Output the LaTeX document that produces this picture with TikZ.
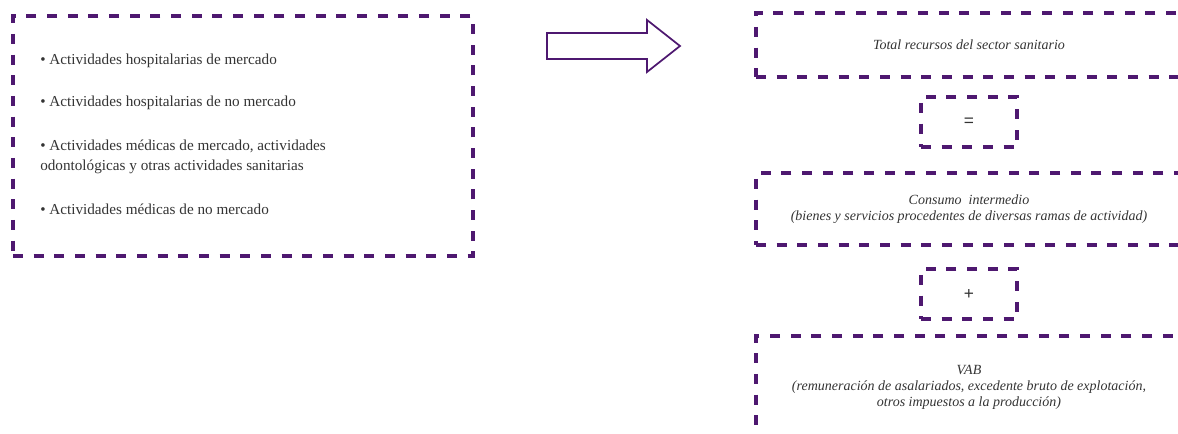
\documentclass[tikz,border=0pt]{standalone}
\usepackage{fontspec}
\setmainfont{Liberation Serif}
\setsansfont{Liberation Sans}
\definecolor{morado}{RGB}{78,24,112}
\begin{document}
\begin{tikzpicture}[x=0.75pt, y=-0.75pt, font=\fontsize{11.4}{15}\selectfont]
  \tikzset{
    caja/.style={draw=morado, line width=2.4pt, dash pattern=on 7.5pt off 8pt, inner sep=0pt},
    item/.style={anchor=west, text=black!80, inner sep=0pt, align=left},
    cuenta/.style={caja, minimum width=319.5pt, align=center, text=black!80,
      font=\itshape\fontsize{10.5}{12}\selectfont},
    signo/.style={caja, minimum width=72pt, minimum height=37.5pt, text=black!80,
      font=\sffamily\fontsize{13}{14}\selectfont}
  }
  \useasboundingbox (0,0) rectangle (1178,434);
  \clip (0,0) rectangle (1178,434);

  % Left box with the branches of activity
  \node[caja, minimum width=345pt, minimum height=180pt] (ramas) at (243,136) {};
  \node[item] (r1) at (40,61) {• Actividades hospitalarias de mercado};
  \node[item] (r2) at (40,103) {• Actividades hospitalarias de no mercado};
  \node[item] (r3) at (40,157) {• Actividades médicas de mercado, actividades\\odontológicas y otras actividades sanitarias};
  \node[item] (r4) at (40,209) {• Actividades médicas de no mercado};

  % Block arrow
  \draw[morado, line width=1.3pt] (547,33) -- (647,33) -- (647,20) -- (680,46)
    -- (647,72) -- (647,59) -- (547,59) -- cycle;

  % Right column: resources = intermediate consumption + VAB
  \node[cuenta, minimum height=48pt] (total) at (969,45) {Total recursos del sector sanitario};
  \node[signo] (igual) at (969,122) {=};
  \node[cuenta, minimum height=54pt] (consumo) at (969,209)
    {Consumo~ intermedio\\(bienes y servicios procedentes de diversas ramas de actividad)};
  \node[signo] (mas) at (969,294) {+};
  \node[cuenta, minimum height=76.5pt] (vab) at (969,387)
    {VAB\\(remuneración de asalariados, excedente bruto de explotación,\\otros impuestos a la producción)};

\end{tikzpicture}
\end{document}
